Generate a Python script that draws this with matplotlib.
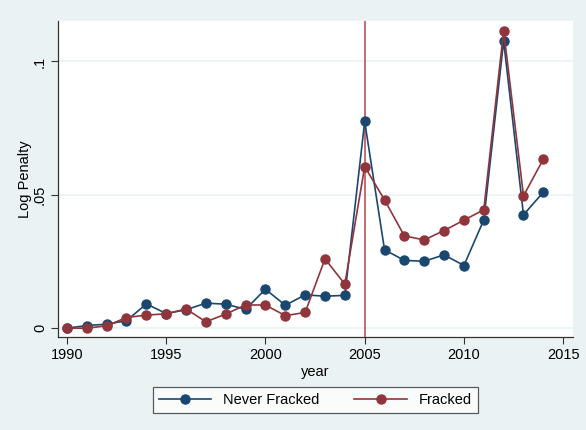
import matplotlib.pyplot as plt
import numpy as np

plt.rcParams['font.family'] = ['Liberation Sans', 'DejaVu Sans']

years = np.arange(1990, 2015)
never_fracked = [0.0, 0.001, 0.0015, 0.0028, 0.0091, 0.0055, 0.0069, 0.0094, 0.0090, 0.0071,
                 0.0146, 0.0086, 0.0125, 0.0120, 0.0123, 0.0775, 0.0294, 0.0254, 0.0251, 0.0275,
                 0.0235, 0.0406, 0.1077, 0.0425, 0.0510]
fracked = [0.0, 0.0, 0.0009, 0.0040, 0.0049, 0.0054, 0.0072, 0.0024, 0.0053, 0.0087,
           0.0087, 0.0047, 0.0059, 0.0260, 0.0165, 0.0606, 0.0481, 0.0346, 0.0331, 0.0366,
           0.0405, 0.0444, 0.1116, 0.0496, 0.0634]
policy_year = 2005

bg = '#eaf2f3'
navy = '#1a476f'
maroon = '#90353b'
fs = 10.5

fig = plt.figure(figsize=(5.86, 4.30), dpi=100, facecolor=bg)
ax = fig.add_axes([0.099, 0.2163, 0.879, 0.735])
ax.set_facecolor('white')

for v in [0, 0.05, 0.1]:
    ax.axhline(v, color=bg, lw=1.2, zorder=0)

ax.plot(years, never_fracked, '-o', color=navy, lw=1.2, ms=6.5, label='Never Fracked', zorder=3)
ax.plot(years, fracked, '-o', color=maroon, lw=1.2, ms=6.5, label='Fracked', zorder=3)
ax.axvline(policy_year, color='#c0505c', lw=1.2, zorder=2)

ax.set_xlim(1989.55, 2015.5)
ax.set_ylim(-0.0033, 0.1152)
ax.set_xticks([1990, 1995, 2000, 2005, 2010, 2015])
ax.set_yticks([0, 0.05, 0.1])
ax.set_yticklabels(['0', '.05', '.1'], rotation=90, va='center')
ax.tick_params(labelsize=fs, length=5, width=0.8, color='#333333', pad=3)

for s in ['top', 'right']:
    ax.spines[s].set_visible(False)
for s in ['left', 'bottom']:
    ax.spines[s].set_color('#333333')
    ax.spines[s].set_linewidth(0.9)

ax.set_xlabel('year', fontsize=fs, labelpad=2)
ax.set_ylabel('Log Penalty', fontsize=fs, labelpad=1)

leg = fig.legend(loc='center', bbox_to_anchor=(0.538, 0.0705), ncol=2, fontsize=fs,
                 frameon=True, fancybox=False, edgecolor='#333333', handlelength=3.6,
                 columnspacing=2.4, borderpad=0.4)
leg.get_frame().set_linewidth(0.9)

fig.savefig('out.png', dpi=100, facecolor=bg)
